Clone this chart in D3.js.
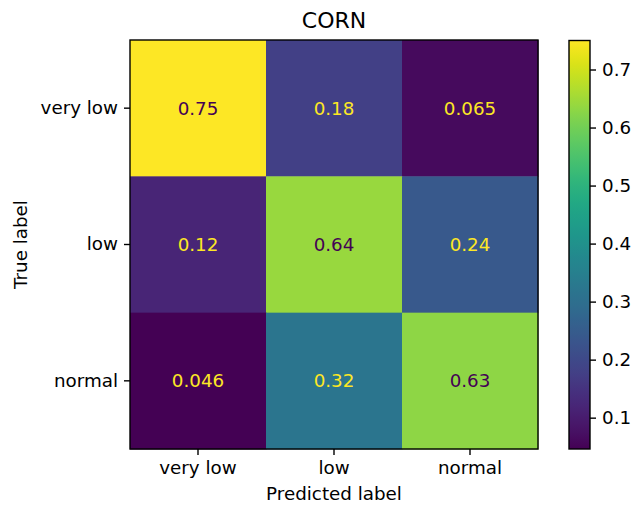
<!DOCTYPE html>
<html>
<head>
<meta charset="utf-8" />
<title>CORN</title>
<script src="https://cdnjs.cloudflare.com/ajax/libs/d3/7.8.5/d3.min.js"></script>
<style>
body { margin: 0; background: #fff; }
svg text { font-family: "DejaVu Sans", sans-serif; fill: #000; }
</style>
</head>
<body>
<svg id="chart" width="635" height="507"></svg>
<script>
// data
const classes = ["very low", "low", "normal"];
const row_very_low = [0.75, 0.18, 0.065];
const row_low = [0.12, 0.64, 0.24];
const row_normal = [0.046, 0.32, 0.63];
const cbar_ticks = [0.1, 0.2, 0.3, 0.4, 0.5, 0.6, 0.7];

const rows = [row_very_low, row_low, row_normal];
const vmin = d3.min(rows.flat());
const vmax = d3.max(rows.flat());

let svg = d3.select("#chart");
let plot = {left: 130, top: 40, width: 408, height: 409};
let cbar = {left: 569, top: 40.5, width: 21, height: 408.5};

let x = d3.scaleBand().domain(classes).range([plot.left, plot.left + plot.width]);
let y = d3.scaleBand().domain(classes).range([plot.top, plot.top + plot.height]);
let color = d3.scaleSequential(d3.interpolateViridis).domain([vmin, vmax]);
let thresh = (vmin + vmax) / 2;

// flatten matrix into cells
let cells = [];
rows.forEach(function (r, i) {
	r.forEach(function (v, j) {
		cells.push({t: classes[i], p: classes[j], v: v});
	});
});

svg.append("g")
	.selectAll("rect")
	.data(cells)
	.enter()
	.append("rect")
		.attr("x", d => x(d.p))
		.attr("y", d => y(d.t))
		.attr("width", x.bandwidth() + 0.5)
		.attr("height", y.bandwidth() + 0.5)
		.attr("fill", d => color(d.v));

svg.append("g")
	.selectAll("text")
	.data(cells)
	.enter()
	.append("text")
		.attr("x", d => x(d.p) + x.bandwidth() / 2)
		.attr("y", d => y(d.t) + y.bandwidth() / 2)
		.attr("text-anchor", "middle")
		.attr("dominant-baseline", "central")
		.style("font-size", "18.3px")
		.style("fill", d => d.v > thresh ? d3.interpolateViridis(0) : d3.interpolateViridis(1))
		.text(d => d3.format(".2g")(d.v));

// frame
svg.append("rect")
	.attr("x", plot.left).attr("y", plot.top)
	.attr("width", plot.width).attr("height", plot.height)
	.attr("fill", "none").attr("stroke", "#000").attr("stroke-width", 1.4);

// axes
let xAxis = svg.append("g")
	.attr("transform", "translate(0," + (plot.top + plot.height) + ")")
	.call(d3.axisBottom(x).tickSize(6).tickPadding(6));
let yAxis = svg.append("g")
	.attr("transform", "translate(" + plot.left + ",0)")
	.call(d3.axisLeft(y).tickSize(6).tickPadding(6));
[xAxis, yAxis].forEach(function (a) {
	a.select(".domain").remove();
	a.selectAll(".tick line").attr("stroke", "#000").attr("stroke-width", 1.4);
	a.selectAll(".tick text").style("font-size", "18.3px").attr("fill", "#000")
		.style("font-family", "DejaVu Sans");
});

// titles
svg.append("text")
	.attr("x", plot.left + plot.width / 2)
	.attr("y", 28)
	.attr("text-anchor", "middle")
	.style("font-size", "22px")
	.text("CORN");
svg.append("text")
	.attr("x", plot.left + plot.width / 2)
	.attr("y", 500)
	.attr("text-anchor", "middle")
	.style("font-size", "18.3px")
	.text("Predicted label");
svg.append("text")
	.attr("transform", "translate(27," + (plot.top + plot.height / 2) + ") rotate(-90)")
	.attr("text-anchor", "middle")
	.style("font-size", "18.3px")
	.text("True label");

// colorbar
let defs = svg.append("defs");
let grad = defs.append("linearGradient")
	.attr("id", "cbgrad")
	.attr("x1", 0).attr("y1", 1).attr("x2", 0).attr("y2", 0);
grad.selectAll("stop")
	.data(d3.range(0, 1.0001, 0.02))
	.enter()
	.append("stop")
		.attr("offset", d => d)
		.attr("stop-color", d => d3.interpolateViridis(d));

svg.append("rect")
	.attr("x", cbar.left).attr("y", cbar.top)
	.attr("width", cbar.width).attr("height", cbar.height)
	.attr("fill", "url(#cbgrad)")
	.attr("stroke", "#000").attr("stroke-width", 1.4);

let cy = d3.scaleLinear().domain([vmin, vmax]).range([cbar.top + cbar.height, cbar.top]);
let cAxis = svg.append("g")
	.attr("transform", "translate(" + (cbar.left + cbar.width) + ",0)")
	.call(d3.axisRight(cy).tickValues(cbar_ticks).tickSize(6).tickPadding(6).tickFormat(d3.format(".1f")));
cAxis.select(".domain").remove();
cAxis.selectAll(".tick line").attr("stroke", "#000").attr("stroke-width", 1.4);
cAxis.selectAll(".tick text").style("font-size", "18.3px").attr("fill", "#000")
	.style("font-family", "DejaVu Sans");
</script>
</body>
</html>
